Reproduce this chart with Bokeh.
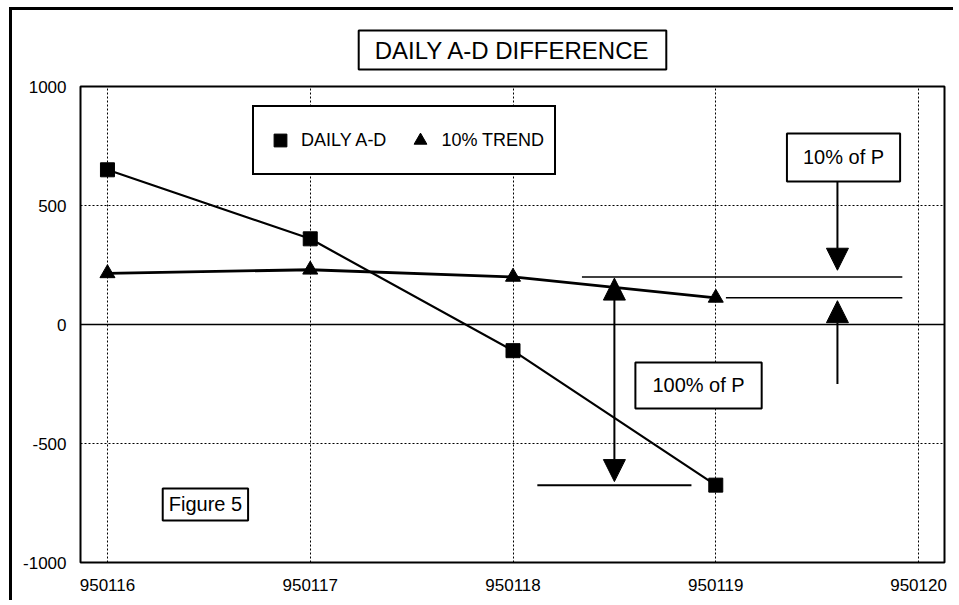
from bokeh.plotting import figure
from bokeh.models import (FixedTicker, Span, Label, Arrow, NormalHead, Legend,
                          LegendItem, Range1d, Title)
from bokeh.embed import file_html
from bokeh.resources import INLINE

# ---- data ----
dates = [950116, 950117, 950118, 950119]
daily_ad = [650, 360, -110, -675]
trend_10 = [215, 230, 200, 112]
x_ticks = [950116, 950117, 950118, 950119, 950120]
x_tick_labels = ["950116", "950117", "950118", "950119", "950120"]
y_ticks = [-1000, -500, 0, 500, 1000]
y_tick_labels = ["-1000", "-500", "0", "500", "1000"]

FONT = "Liberation Sans"
W, H = 944, 593

p = figure(width=W, height=H, output_backend="svg", toolbar_location=None,
           x_range=Range1d(950115.867, 950120.128), y_range=Range1d(-1000, 1000),
           min_border_left=68, min_border_top=76, min_border_right=12,
           min_border_bottom=41)
p.styles = {"margin-left": "9px", "margin-top": "7px",
            "border-left": "3px solid black", "border-top": "3px solid black"}
p.background_fill_color = "white"
p.border_fill_color = "white"
p.outline_line_color = "black"
p.outline_line_width = 2

p.title = Title(text="DAILY A-D DIFFERENCE", align="center", offset=-8,
                text_font=FONT, text_font_size="24px", text_font_style="normal",
                text_color="black", standoff=34,
                border_line_color="black", border_line_width=2,
                background_fill_color="white", padding=(16, 6))

# axes
p.xaxis.ticker = FixedTicker(ticks=x_ticks)
p.xaxis.major_label_overrides = {t: l for t, l in zip(x_ticks, x_tick_labels)}
p.yaxis.ticker = FixedTicker(ticks=y_ticks)
p.yaxis.major_label_overrides = {t: l for t, l in zip(y_ticks, y_tick_labels)}
for ax in (p.xaxis, p.yaxis):
    ax.axis_line_color = None
    ax.major_tick_line_color = None
    ax.minor_tick_line_color = None
    ax.major_label_text_font = FONT
    ax.major_label_text_font_size = "17px"
    ax.major_label_text_color = "black"
p.xaxis.major_label_standoff = 10
p.yaxis.major_label_standoff = 8

# grid
p.xgrid.ticker = FixedTicker(ticks=x_ticks)
p.ygrid.ticker = FixedTicker(ticks=[-500, 500])
for g in (p.xgrid, p.ygrid):
    g.grid_line_color = "black"
    g.grid_line_dash = "2 2"
    g.grid_line_width = 1
    g.grid_line_alpha = 1

p.add_layout(Span(location=0, dimension="width", line_color="black", line_width=1.5))

# series
p.line(dates, daily_ad, line_width=2.2, color="black")
s1 = p.scatter(dates, daily_ad, marker="square", size=14, color="black")
p.line(dates, trend_10, line_width=2.8, color="black")
s2 = p.scatter(dates, trend_10, marker="triangle", size=15, color="black")

legend = Legend(items=[LegendItem(label="DAILY A-D", renderers=[s1]),
                       LegendItem(label="10% TREND", renderers=[s2])],
                orientation="horizontal", location=(172, 387),
                padding=10, spacing=18, margin=0,
                glyph_width=32, glyph_height=46, label_height=46,
                label_standoff=5,
                label_text_font=FONT, label_text_font_size="18px",
                label_text_color="black",
                border_line_color="black", border_line_width=2,
                border_line_alpha=1,
                background_fill_color="white", background_fill_alpha=1)
p.add_layout(legend)

# annotation lines
p.segment(x0=[950118.34, 950119.05], y0=[trend_10[2], trend_10[3]],
          x1=[950119.92, 950119.92], y1=[trend_10[2], trend_10[3]],
          line_color="black", line_width=1.5)
p.segment(x0=[950118.12], y0=[daily_ad[3]], x1=[950118.88], y1=[daily_ad[3]],
          line_color="black", line_width=2)

# arrows
def head():
    return NormalHead(size=22, fill_color="black", line_color="black")

p.add_layout(Arrow(start=head(), end=head(), x_start=950118.5, y_start=daily_ad[3] + 15,
                   x_end=950118.5, y_end=trend_10[2] - 5,
                   line_color="black", line_width=2))
p.add_layout(Arrow(end=head(), x_start=950119.6, y_start=600, x_end=950119.6, y_end=228,
                   line_color="black", line_width=2))
p.add_layout(Arrow(end=head(), x_start=950119.6, y_start=-250, x_end=950119.6, y_end=100,
                   line_color="black", line_width=2))

# boxed labels (padding = (horizontal, vertical))
def boxed(x, y, text, size, pad):
    lab = Label(x=x, y=y, text=text, text_font=FONT, text_font_size=size,
                text_align="center", text_baseline="middle", text_color="black",
                border_line_color="black", border_line_width=2,
                background_fill_color="white", background_fill_alpha=1,
                padding=pad)
    p.add_layout(lab)

boxed(950119.63, 702, "10% of P", "20px", (16, 13))
boxed(950118.915, -256, "100% of P", "20px", (17, 12))
boxed(950116.483, -756, "Figure 5", "20px", (6, 5))

open("out.html", "w").write(file_html(p, INLINE))
